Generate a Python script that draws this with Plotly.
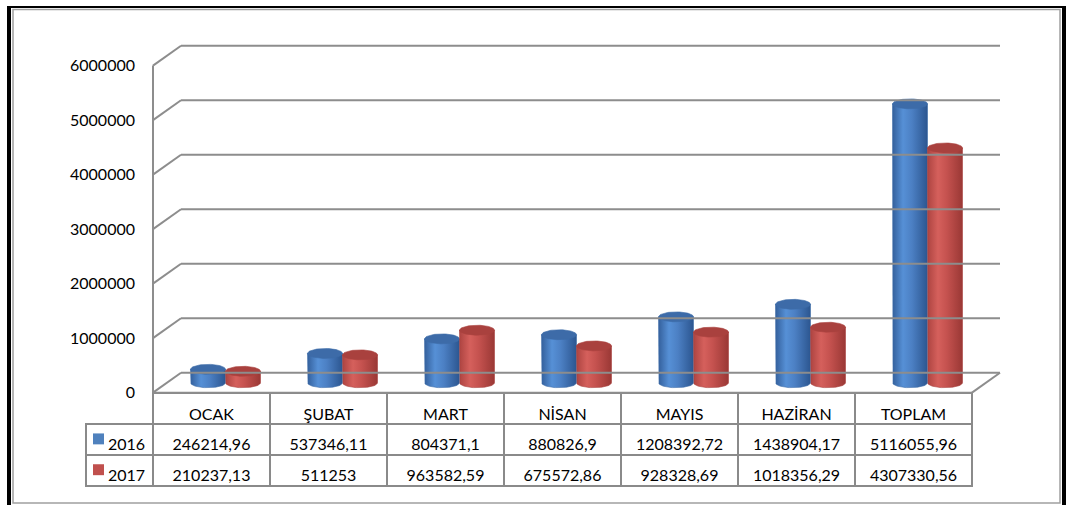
import numpy as np
import plotly.graph_objects as go

# ---------------- data ----------------
categories = ["OCAK", "ŞUBAT", "MART", "NİSAN", "MAYIS", "HAZİRAN", "TOPLAM"]
series_names = ["2016", "2017"]
values_2016 = [246214.96, 537346.11, 804371.1, 880826.9, 1208392.72, 1438904.17, 5116055.96]
values_2017 = [210237.13, 511253, 963582.59, 675572.86, 928328.69, 1018356.29, 4307330.56]
y_ticks = [0, 1000000, 2000000, 3000000, 4000000, 5000000, 6000000]
y_tick_labels = [str(v) for v in y_ticks]

series_values = [values_2016, values_2017]
series_colors = ["#4f81bd", "#c0504d"]
body_scales = [
    [[0, "#34609c"], [0.3, "#5690d6"], [0.55, "#4c80c4"], [1, "#2c5690"]],
    [[0, "#ad4441"], [0.3, "#d5605c"], [0.55, "#c5524f"], [1, "#9a3835"]],
]
top_colors = ["#3d6ba8", "#a9413e"]

# ---------------- geometry (pixels) ----------------
W, H = 1067, 508
PX_L = 153                    # front-left corner of the floor
PY_B = 395                    # front floor line
CAT_W = 117                   # pixels per category
LEG_W = 67                    # legend column of the data table
ROW_H = 31
DEPTH_X, DEPTH_Y = 28, 20     # 3-D depth offset
PX_PER_VAL = (395 - 66) / 6e6
PAD = 6
n = len(categories)

dxu = DEPTH_X / CAT_W
dyv = DEPTH_Y / PX_PER_VAL
y_top = y_ticks[-1] + dyv
PX_R = PX_L + n * CAT_W + DEPTH_X
PY_T = PY_B - y_top * PX_PER_VAL

fig = go.Figure()

grid_col = "#8d8d8d"
shapes = []
# back-wall gridlines with the side-wall diagonals
for v in y_ticks:
    shapes.append(dict(type="line", xref="x", yref="y", x0=0, y0=v, x1=dxu, y1=v + dyv,
                       line=dict(color=grid_col, width=2)))
    shapes.append(dict(type="line", xref="x", yref="y", x0=dxu, y0=v + dyv, x1=n + dxu, y1=v + dyv,
                       line=dict(color=grid_col, width=2)))
# front-left wall edge
shapes.append(dict(type="line", xref="x", yref="y", x0=0, y0=0, x1=0, y1=y_ticks[-1],
                   line=dict(color=grid_col, width=2)))
# floor right edge and front edge
shapes.append(dict(type="line", xref="x", yref="y", x0=n, y0=0, x1=n + dxu, y1=dyv,
                   line=dict(color=grid_col, width=2)))
shapes.append(dict(type="line", xref="x", yref="y", x0=0, y0=0, x1=n, y1=0,
                   line=dict(color=grid_col, width=2)))

# ---------------- cylinders ----------------
hw = 17.5 / CAT_W
ry = 5 / PX_PER_VAL
base = dyv / 2
t_low = np.linspace(np.pi, 2 * np.pi, 40)
t_full = np.linspace(0, 2 * np.pi, 80)
for i in range(n):
    for s, vals in enumerate(series_values):
        cx = i + 0.5 + dxu / 2 + (s - 0.5) * 2 * hw
        top = base + vals[i]
        xs = [cx - hw] + list(cx + hw * np.cos(t_low)) + [cx + hw, cx - hw]
        ys = [top] + list(base + ry * np.sin(t_low)) + [top, top]
        fig.add_trace(go.Scatter(
            x=xs, y=ys, mode="lines", fill="toself",
            fillgradient=dict(type="horizontal", colorscale=body_scales[s]),
            line=dict(width=0.6, color=top_colors[s]),
            hoverinfo="skip", showlegend=False))
        fig.add_trace(go.Scatter(
            x=list(cx + hw * np.cos(t_full)), y=list(top + ry * np.sin(t_full)),
            mode="lines", fill="toself", fillcolor=top_colors[s],
            line=dict(width=0.6, color=top_colors[s]),
            hoverinfo="skip", showlegend=False))

# ---------------- data table ----------------
def fmt(v):
    return repr(v).replace(".", ",")

line_col = "#8a8a8a"
clear = "rgba(0,0,0,0)"
tbl_x = [(PX_L - LEG_W) / W, (PX_L + n * CAT_W) / W]
header_vals = [""] + categories
cell_vals = [list(series_names)] + [[fmt(values_2016[i]), fmt(values_2017[i])] for i in range(n)]
col_w = [LEG_W] + [CAT_W] * n
tfont = dict(family="Lato", size=16, color="black")

# grid of the table (borders and fills)
fig.add_trace(go.Table(
    domain=dict(x=tbl_x, y=[(H - 500) / H, (H - PY_B) / H]),
    columnwidth=col_w,
    header=dict(values=[""] * (n + 1), height=ROW_H,
                fill=dict(color=[clear] + ["white"] * n),
                line=dict(color=[clear] + [line_col] * n, width=2)),
    cells=dict(values=[["", ""] for _ in range(n + 1)], height=ROW_H,
               fill=dict(color="white"),
               line=dict(color=line_col, width=2)),
))
# text of the table, vertically centred in the cells
TXT_DY = 7
fig.add_trace(go.Table(
    domain=dict(x=tbl_x, y=[(H - 505) / H, (H - PY_B - TXT_DY) / H]),
    columnwidth=col_w,
    header=dict(values=header_vals, height=ROW_H - 1, align="center",
                fill=dict(color=clear), line=dict(color=clear, width=0), font=tfont),
    cells=dict(values=cell_vals, height=ROW_H, align=["right"] + ["center"] * n,
               fill=dict(color=clear), line=dict(color=clear, width=0), font=tfont),
))

# ---------------- frame & legend keys ----------------
def px(x):
    return x / W

def py(y):
    return 1 - y / H

for s, c in enumerate(series_colors):
    row_mid = PY_B + ROW_H * (s + 1.5)
    shapes.append(dict(type="rect", xref="paper", yref="paper",
                       x0=px(93), x1=px(104), y0=py(row_mid - 5.5), y1=py(row_mid + 5.5),
                       fillcolor=c, line=dict(width=0)))

shapes += [
    dict(type="rect", xref="paper", yref="paper", x0=px(7), x1=px(11), y0=py(6), y1=py(508),
         fillcolor="black", line=dict(width=0)),
    dict(type="rect", xref="paper", yref="paper", x0=px(7), x1=px(1066), y0=py(6), y1=py(8),
         fillcolor="black", line=dict(width=0)),
    dict(type="rect", xref="paper", yref="paper", x0=px(1062), x1=px(1066), y0=py(6), y1=py(508),
         fillcolor="black", line=dict(width=0)),
    dict(type="rect", xref="paper", yref="paper", x0=px(13), x1=px(1060), y0=py(9.5), y1=py(506),
         line=dict(color="#a0a0a0", width=1.5)),
]

fig.update_layout(
    width=W, height=H, autosize=False,
    margin=dict(l=0, r=0, t=0, b=0, pad=0),
    paper_bgcolor="white", plot_bgcolor="white",
    showlegend=False,
    shapes=shapes,
    xaxis=dict(domain=[(PX_L - PAD) / W, (PX_R + PAD) / W],
               range=[-PAD / CAT_W, n + dxu + PAD / CAT_W],
               visible=False, fixedrange=True),
    yaxis=dict(domain=[(H - PY_B - PAD) / H, (H - PY_T + PAD) / H],
               range=[-PAD / PX_PER_VAL, y_top + PAD / PX_PER_VAL],
               tickvals=y_ticks, ticktext=y_tick_labels,
               showgrid=False, zeroline=False, showline=False, ticks="",
               ticklabelstandoff=11,
               tickfont=dict(family="Lato", size=16, color="black"),
               fixedrange=True),
)

fig.write_html("out.html", config={"displayModeBar": False},
               post_script="document.body.style.margin='0px';")
